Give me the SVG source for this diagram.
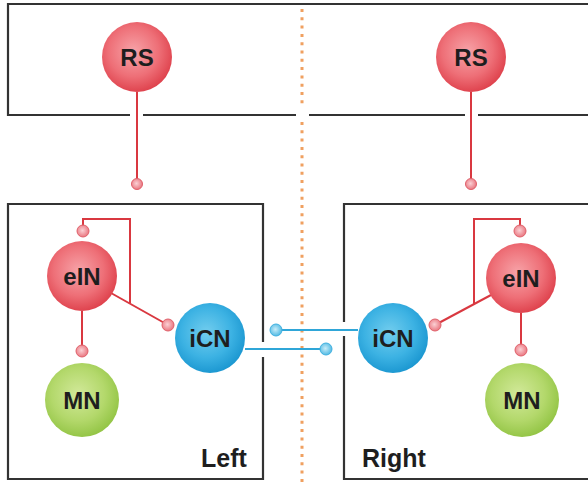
<svg xmlns="http://www.w3.org/2000/svg" width="588" height="482" viewBox="0 0 588 482">
<defs>
<radialGradient id="gRed" cx="0.45" cy="0.42" r="0.6">
<stop offset="0" stop-color="#f7a3a8"/><stop offset="0.6" stop-color="#ee6f77"/><stop offset="1" stop-color="#de404b"/>
</radialGradient>
<radialGradient id="gBlue" cx="0.45" cy="0.42" r="0.6">
<stop offset="0" stop-color="#72cdee"/><stop offset="0.6" stop-color="#3cb2e3"/><stop offset="1" stop-color="#1a96d0"/>
</radialGradient>
<radialGradient id="gGreen" cx="0.45" cy="0.42" r="0.6">
<stop offset="0" stop-color="#d2e99a"/><stop offset="0.6" stop-color="#b3d86b"/><stop offset="1" stop-color="#92c444"/>
</radialGradient>
<radialGradient id="tRed" cx="0.45" cy="0.45" r="0.6">
<stop offset="0" stop-color="#fbd0d4"/><stop offset="1" stop-color="#e8707a"/>
</radialGradient>
<radialGradient id="tBlue" cx="0.45" cy="0.45" r="0.6">
<stop offset="0" stop-color="#c8ecf8"/><stop offset="1" stop-color="#48b6e2"/>
</radialGradient>
</defs>
<style>
.box{fill:none;stroke:#333;stroke-width:2.2}
.red{fill:none;stroke:#d93840;stroke-width:2}
.blue{fill:none;stroke:#2fa6d8;stroke-width:2}
.tr{fill:url(#tRed);stroke:#e0606a;stroke-width:1}
.tb{fill:url(#tBlue);stroke:#40b0e0;stroke-width:1}
.lbl{font-family:"Liberation Sans",Arial,sans-serif;font-weight:bold;font-size:24px;fill:#1e1e1e;text-anchor:middle}
.side{font-family:"Liberation Sans",Arial,sans-serif;font-weight:bold;font-size:25px;fill:#1e1e1e}
.dots{fill:none;stroke:#f0a060;stroke-width:3;stroke-dasharray:3 5.3}
</style>
<g id="frames">
<path class="box" d="M588,4 H8 V115 H130 M143,115 H296 M309,115 H465 M478,115 H588"/>
<path class="box" d="M263,342 V204 H8 V479 H263 V357"/>
<path class="box" d="M588,204 H344 V322 M344,336 V479 H588"/>
<path class="dots" d="M302,9 V108 M302,122 V482"/>
</g>
<g id="connectors">
<path class="red" d="M137,92 V184"/>
<path class="red" d="M471,92 V184"/>
<path class="red" d="M82,311 V351"/>
<path class="red" d="M83,231 V219 H130 V303"/>
<path class="red" d="M111,293 L168,325"/>
<path class="red" d="M521,313 V350"/>
<path class="red" d="M520,231 V219 H474 V304"/>
<path class="red" d="M491,295 L435,325"/>
<path class="blue" d="M276,330 H358"/>
<path class="blue" d="M245,349 H326"/>
<circle class="tr" cx="137" cy="184" r="5.5"/>
<circle class="tr" cx="471" cy="184" r="5.5"/>
<circle class="tr" cx="83" cy="231" r="6"/>
<circle class="tr" cx="82" cy="351" r="6"/>
<circle class="tr" cx="168" cy="325" r="6"/>
<circle class="tr" cx="520" cy="231" r="6"/>
<circle class="tr" cx="521" cy="350" r="6"/>
<circle class="tr" cx="435" cy="325" r="6"/>
<circle class="tb" cx="276" cy="330" r="6"/>
<circle class="tb" cx="326" cy="349" r="6"/>
</g>
<g id="RS-left"><circle cx="137" cy="57" r="35" fill="url(#gRed)"/><text class="lbl" x="137" y="66">RS</text></g>
<g id="RS-right"><circle cx="471" cy="57" r="35" fill="url(#gRed)"/><text class="lbl" x="471" y="66">RS</text></g>
<g id="eIN-left"><circle cx="82" cy="276" r="35" fill="url(#gRed)"/><text class="lbl" x="82" y="285">eIN</text></g>
<g id="MN-left"><circle cx="82" cy="400" r="37" fill="url(#gGreen)"/><text class="lbl" x="82" y="409">MN</text></g>
<g id="iCN-left"><circle cx="210" cy="338" r="35" fill="url(#gBlue)"/><text class="lbl" x="210" y="347">iCN</text></g>
<g id="eIN-right"><circle cx="521" cy="278" r="35" fill="url(#gRed)"/><text class="lbl" x="521" y="287">eIN</text></g>
<g id="MN-right"><circle cx="522" cy="400" r="37" fill="url(#gGreen)"/><text class="lbl" x="522" y="409">MN</text></g>
<g id="iCN-right"><circle cx="393" cy="338" r="35" fill="url(#gBlue)"/><text class="lbl" x="393" y="347">iCN</text></g>
<text class="side" x="201" y="467">Left</text>
<text class="side" x="362" y="467">Right</text>
</svg>
